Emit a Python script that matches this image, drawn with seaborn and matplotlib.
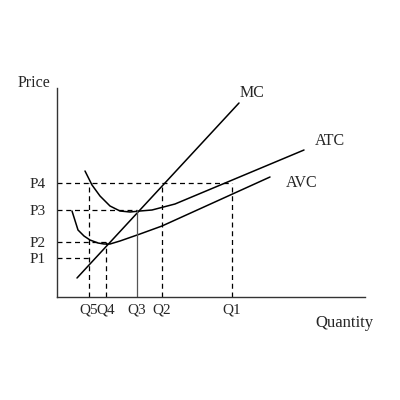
import matplotlib
matplotlib.use("Agg")
import matplotlib.pyplot as plt
import seaborn as sns
import pandas as pd

# ---- data (quantity, price in chart units) ----
mc_q = [20, 182]
mc_p = [19, 194]

atc_q = [28, 35, 43, 53, 63, 73, 83, 95, 118, 247]
atc_p = [126, 112, 101, 91, 86, 85, 86, 87, 93, 147]

avc_q = [15, 21, 27, 33, 41, 47, 53, 63, 83, 105, 213]
avc_p = [86, 67, 61, 57, 54, 53, 53, 56, 63, 71, 120]

price_labels = ["P1", "P2", "P3", "P4"]
price_values = [39, 55, 87, 114]
qty_labels = ["Q5", "Q4", "Q3", "Q2", "Q1"]
qty_values = [32, 49, 80, 105, 175]

sns.set_style("white")
plt.rcParams["font.family"] = ["Liberation Serif", "DejaVu Serif"]

fig = plt.figure(figsize=(4, 4), dpi=100)
ax = fig.add_axes([57 / 400, 103 / 400, 308 / 400, 209 / 400])
ax.set_xlim(0, 308)
ax.set_ylim(0, 209)

curves = pd.concat([
    pd.DataFrame({"q": mc_q, "p": mc_p, "curve": "MC"}),
    pd.DataFrame({"q": atc_q, "p": atc_p, "curve": "ATC"}),
    pd.DataFrame({"q": avc_q, "p": avc_p, "curve": "AVC"}),
])
for name, g in curves.groupby("curve", sort=False):
    sns.lineplot(data=g, x="q", y="p", sort=False, color="black", lw=1.1,
                 ax=ax, legend=False)

P1, P2, P3, P4 = price_values
Q5, Q4, Q3, Q2, Q1 = qty_values
dash = dict(color="black", lw=0.9, ls=(0, (4, 3)))
# horizontal guides
ax.plot([0, Q1], [P4, P4], **dash)
ax.plot([0, Q3], [P3, P3], **dash)
ax.plot([0, Q4], [P2, P2], **dash)
ax.plot([0, Q5], [P1, P1], **dash)
# vertical guides
ax.plot([Q1, Q1], [0, P4], **dash)
ax.plot([Q2, Q2], [0, P4], **dash)
ax.plot([Q5, Q5], [0, P4], **dash)
ax.plot([Q4, Q4], [0, P2], **dash)
ax.plot([Q3, Q3], [0, P3], color="#555555", lw=0.9)

for s in ["top", "right"]:
    ax.spines[s].set_visible(False)
for s in ["left", "bottom"]:
    ax.spines[s].set_color("#333333")
    ax.spines[s].set_linewidth(1.0)

ax.set_xticks(qty_values, qty_labels, fontsize=11)
ax.set_yticks(price_values, price_labels, fontsize=11)
ax.tick_params(axis="x", length=0, pad=5)
ax.tick_params(axis="y", length=0, pad=8)
ax.set_xlabel("")
ax.set_ylabel("")

ax.text(-39, 214, "Price", fontsize=11.5, ha="left", va="center", clip_on=False)
ax.text(258, -26, "Quantity", fontsize=12, ha="left", va="center", clip_on=False)
ax.text(195, 204, "MC", fontsize=11.5, ha="center", va="center", clip_on=False)
ax.text(273, 156, "ATC", fontsize=11.5, ha="center", va="center", clip_on=False)
ax.text(245, 114, "AVC", fontsize=11.5, ha="center", va="center", clip_on=False)

fig.savefig("out.png", dpi=100)
